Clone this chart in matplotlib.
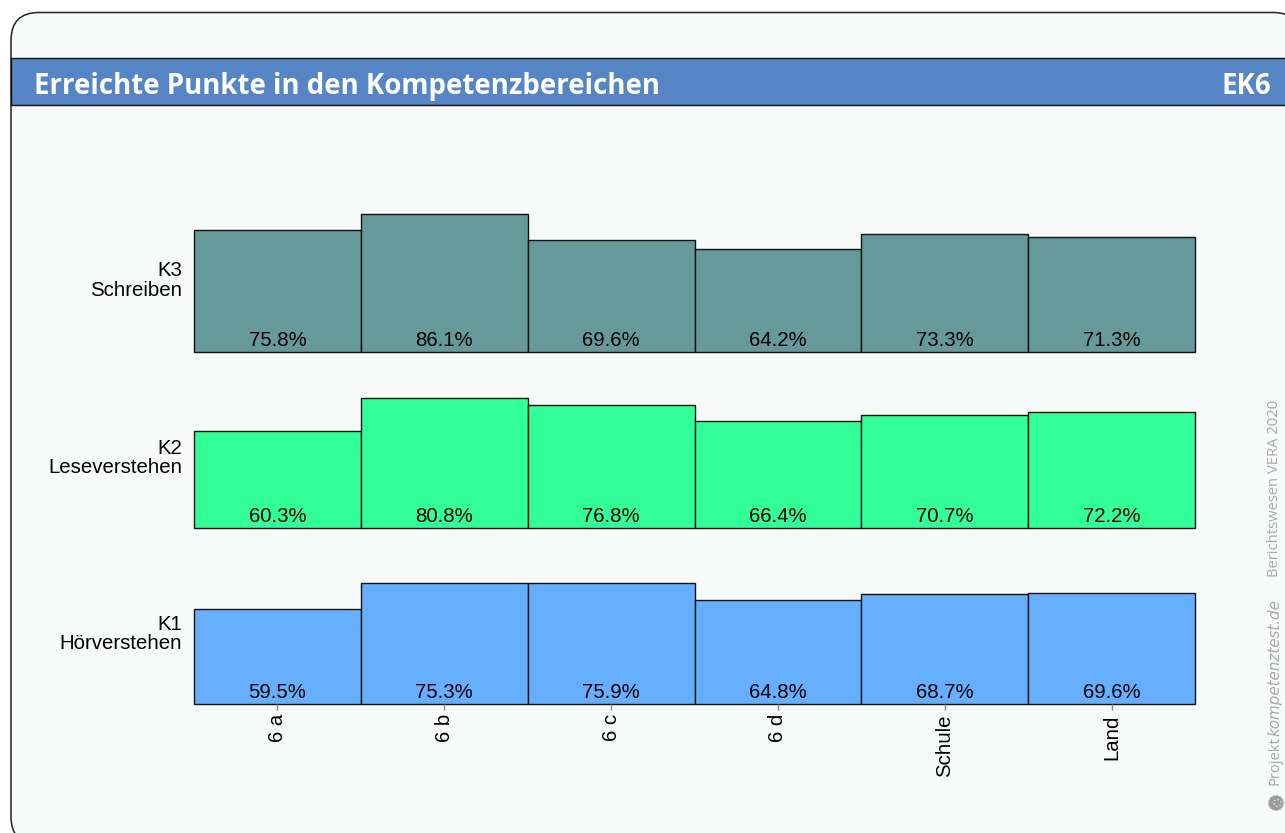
import numpy as np
import matplotlib
matplotlib.use("Agg")
import matplotlib.pyplot as plt
from matplotlib.patches import FancyBboxPatch, Rectangle, Circle

W, H = 1285, 833

klassen = ["6 a", "6 b", "6 c", "6 d", "Schule", "Land"]
k1 = [59.5, 75.3, 75.9, 64.8, 68.7, 69.6]
k2 = [60.3, 80.8, 76.8, 66.4, 70.7, 72.2]
k3 = [75.8, 86.1, 69.6, 64.2, 73.3, 71.3]
bereiche = ["K1\nHörverstehen", "K2\nLeseverstehen", "K3\nSchreiben"]
farben = ["#66AFFF", "#33FF99", "#669999"]
titel = "Erreichte Punkte in den Kompetenzbereichen"
kennung = "EK6"

fig = plt.figure(figsize=(W / 100, H / 100), dpi=100, facecolor="white")

# Hintergrund in Pixelkoordinaten
bg = fig.add_axes([0, 0, 1, 1])
bg.set_xlim(0, W)
bg.set_ylim(H, 0)
bg.axis("off")
bg.add_patch(FancyBboxPatch((11, 12.5), 1290, 832, boxstyle="round,pad=0,rounding_size=28",
                            fc="#F8FAF9", ec="#222222", lw=1.1))
bg.add_patch(Rectangle((11, 58), W, 47, fc="#5585C5", ec="#111111", lw=1.0))
bg.text(34.5, 86, titel, color="white", fontsize=19.9, fontweight="bold",
        family="Open Sans", va="center", ha="left")
bg.text(1271, 86, kennung, color="white", fontsize=19.9, fontweight="bold",
        family="Open Sans", va="center", ha="right")

# Wasserzeichen
grau = "#A8A8A8"
bg.text(1275, 785, "Projekt", color=grau, fontsize=10.6, rotation=90, family="Open Sans",
        va="bottom", ha="center")
bg.text(1275, 736, "kompetenztest.de", color=grau, fontsize=10.9, rotation=90, style="italic",
        family="DejaVu Sans", va="bottom", ha="center")
bg.text(1275, 577, "Berichtswesen VERA 2020", color=grau, fontsize=10.6, rotation=90,
        family="Open Sans", va="bottom", ha="center")
bg.add_patch(Circle((1276, 803), 7.5, fc="#9A9A9A", ec="#BBBBBB", lw=1.0, ls=":"))
bg.add_patch(Circle((1277.5, 803), 3.5, fc="none", ec="#E4E4E4", lw=1.0, ls=":"))

# Balken
ax_l, ax_r, ax_b = 194, 1195, 704.2
px = 1.603
y_top = 320
ax_t = ax_b - y_top * px
ax = fig.add_axes([ax_l / W, 1 - ax_b / H, (ax_r - ax_l) / W, (ax_b - ax_t) / H])
ax.patch.set_alpha(0)
ax.set_xlim(0, 6)
ax.set_ylim(0, y_top)
for s in ax.spines.values():
    s.set_visible(False)

x = np.arange(6) + 0.5
for i, werte in enumerate([k1, k2, k3]):
    basis = i * 110
    ax.bar(x, werte, width=1, bottom=basis, color=farben[i], edgecolor="#111111", lw=1.0, clip_on=False)
    for xi, w in zip(x, werte):
        ax.text(xi, basis + 1.2, f"{w:.1f}%", ha="center", va="bottom", fontsize=14.7,
                family="Liberation Sans", color="black")

ax.set_xticks(x)
ax.set_xticklabels(klassen, rotation=90, fontsize=14.7, family="Liberation Sans", color="black")
ax.tick_params(axis="x", length=4.2, width=1, color="#888888", pad=3)
ax.set_yticks([45.2, 155, 265.8])
ax.set_yticklabels(bereiche, fontsize=14.7, family="Liberation Sans", color="black",
                   ha="right", linespacing=1.03)
ax.tick_params(axis="y", length=0, pad=8.5)

fig.savefig("out.png", dpi=100, facecolor="white")
